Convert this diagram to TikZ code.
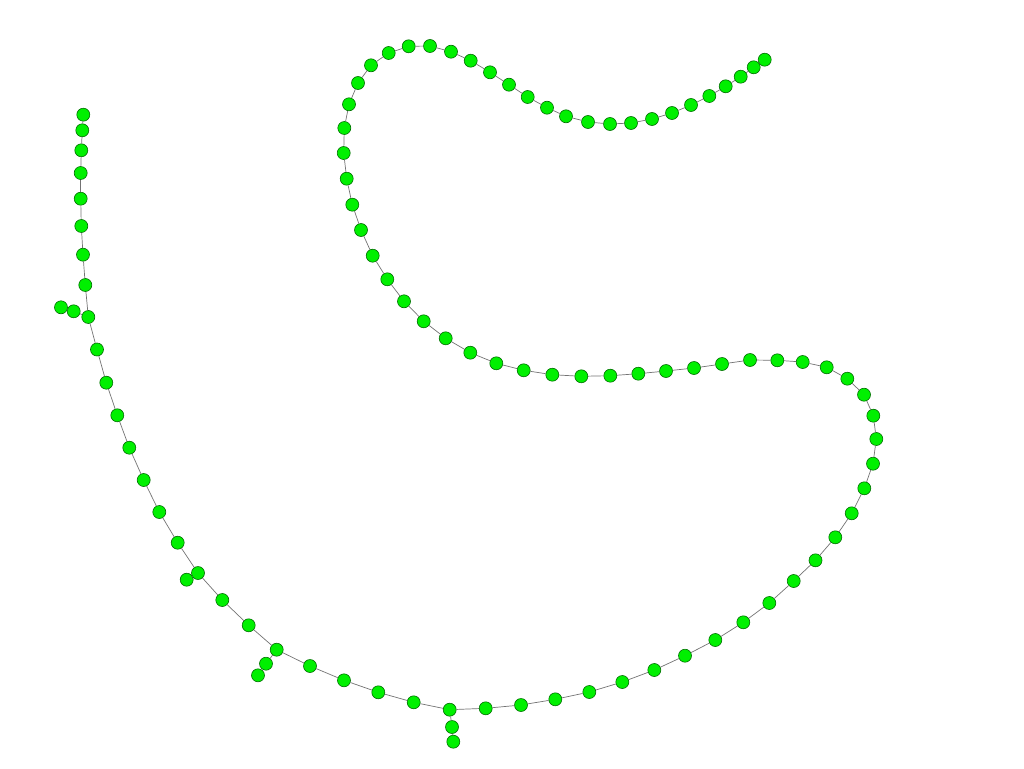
\documentclass[tikz,border=0pt]{standalone}
\usepackage{tikz}
\definecolor{nodefill}{RGB}{0,240,0}
\definecolor{nodeedge}{RGB}{0,110,0}
\definecolor{edgecol}{RGB}{115,115,115}
\begin{document}
\begin{tikzpicture}[x=1pt,y=-1pt,
  vert/.style={circle,fill=nodefill,draw=nodeedge,line width=0.6pt,minimum size=13pt,inner sep=0pt},
  link/.style={draw=edgecol,line width=0.7pt}]
\useasboundingbox (0,0) rectangle (1024,768);
\foreach \x/\y [count=\i] in {
83.3/114.7, 82.3/130.3, 81.3/150.3, 80.7/173, 80.7/198.7, 81.3/226, 83/254.7, 85.3/285, 88.3/317, 97/349.5,
106.3/382.7, 117.3/415.3, 129.3/447.7, 143.7/480, 159.3/512, 177.7/542.7, 198/573, 222.3/600, 248.7/625.3, 276.7/649.7,
310/666, 344/680.3, 378.3/692.3, 413.7/702.3, 449.7/709.7, 485.7/708.3, 521/705, 555.3/699.3, 589.3/692, 622.3/682,
654.3/670, 685/655.7, 715.3/640, 743.3/622.3, 769.3/603, 793.7/581, 815.5/560.3, 835.3/537.3, 851.7/513.3, 864.3/488.3,
873/463.7, 876.3/439, 873.3/415.7, 864/394.7, 847.3/378.7, 826.7/367.3, 802.7/362, 777.3/360.3, 750/360, 722/364,
694/368, 666/371, 638.3/373.7, 610.3/375.7, 581.3/376.3, 552.3/374.7, 523.7/370.3, 496.3/363.3, 470.3/352.7, 445.7/338.3,
423.7/321.3, 404/301.3, 387.3/279.3, 372.7/255.7, 361/230, 352.3/204.7, 346.7/178.7, 343.7/153, 344.3/128, 349/104.3,
358/83, 371/65.3, 388.7/53, 408.7/46.3, 430/46, 451/51.7, 470.7/60.7, 490/72.3, 509/84.7, 527.7/97,
547/107.7, 566/116.3, 588/122, 610/124, 631/123, 652/119, 672/113, 691/105, 709.3/96, 725.7/86.3,
740.7/76.7, 753.7/67.3, 764.7/59.7}
  \coordinate (p\i) at (\x,\y);
% branch positions
\coordinate (q1) at (73.7,311.3);
\coordinate (q2) at (61,307.3);
\coordinate (q3) at (186.7,579.7);
\coordinate (q4) at (266,663.7);
\coordinate (q5) at (258,675.3);
\coordinate (q6) at (452,727);
\coordinate (q7) at (453.3,741.7);
% nodes
\foreach \i in {1,...,93} \node[vert] (n\i) at (p\i) {};
\foreach \i in {1,...,7} \node[vert] (b\i) at (q\i) {};
% edges
\foreach \i [evaluate=\i as \j using int(\i+1)] in {1,...,92}
  \draw[link] (n\i) -- (n\j);
\draw[link] (n9) -- (b1);
\draw[link] (b1) -- (b2);
\draw[link] (n17) -- (b3);
\draw[link] (n20) -- (b4);
\draw[link] (b4) -- (b5);
\draw[link] (n25) -- (b6);
\draw[link] (b6) -- (b7);
\end{tikzpicture}
\end{document}
